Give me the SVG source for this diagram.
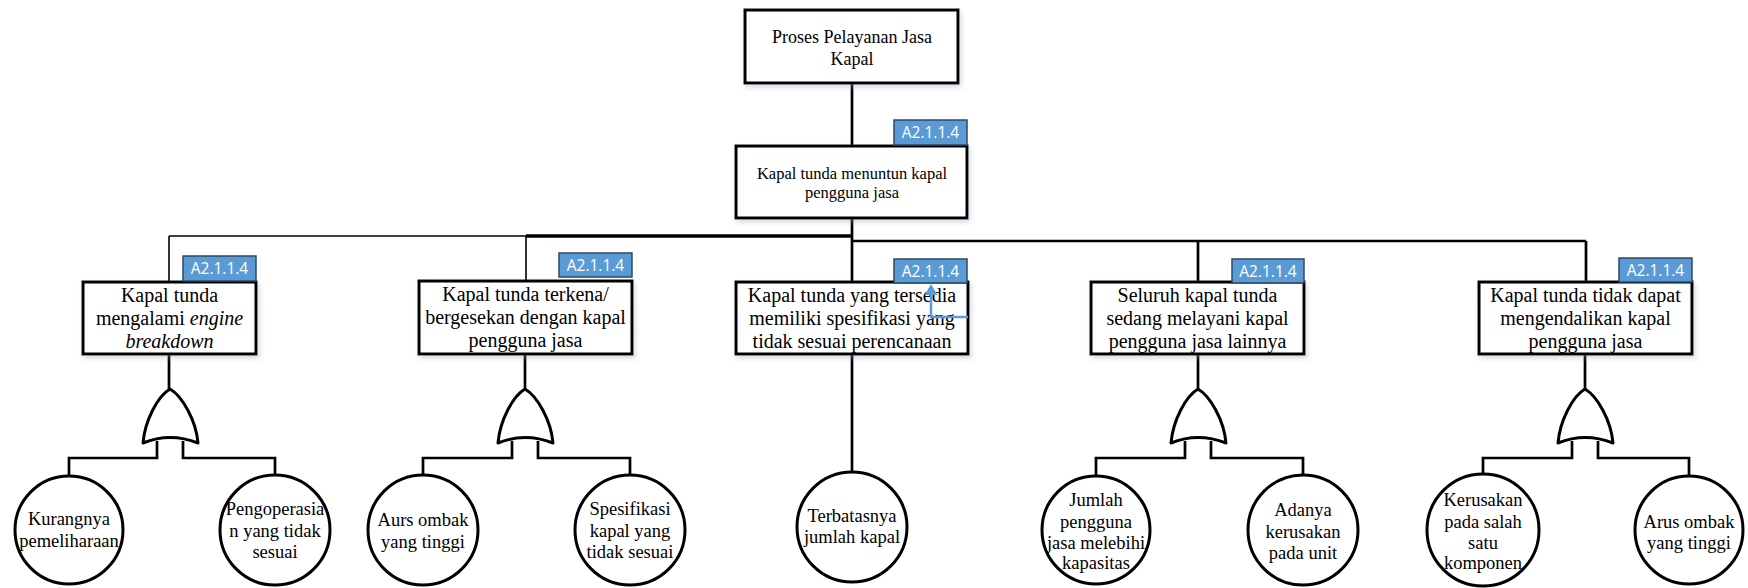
<svg xmlns="http://www.w3.org/2000/svg" width="1748" height="588" viewBox="0 0 1748 588">
  <defs>
    <style>
      .box { fill: #ffffff; stroke: #000000; stroke-width: 3; filter: url(#shadow); }
      .evt { fill: #ffffff; stroke: #000000; stroke-width: 3; }
      .gate { fill: #ffffff; stroke: #000000; stroke-width: 3; stroke-linejoin: round; }
      .tag { fill: #5B9BD5; stroke: #2E4A66; stroke-width: 1.5; }
      .tagtxt { font-family: "Open Sans", "Liberation Sans", sans-serif; font-size: 15.5px; fill: #ffffff; text-anchor: middle; }
      .t { font-family: "Liberation Serif", "DejaVu Serif", serif; fill: #000000; text-anchor: middle; }
      .t20 { font-size: 20px; }
      .t18 { font-size: 18.5px; }
      .wire { fill: none; stroke: #000000; stroke-width: 2.7; }
      .thin { fill: none; stroke: #000000; stroke-width: 1.6; }
      .blue { fill: none; stroke: #5B9BD5; stroke-width: 2.5; }
    </style>
    <filter id="shadow" x="-10%" y="-10%" width="125%" height="130%">
      <feDropShadow dx="2" dy="3" stdDeviation="2.5" flood-color="#8a9bb0" flood-opacity="0.35"/>
    </filter>
    <!-- OR gate, apex at origin -->
    <path id="orgate" class="gate" d="M0,0 C-12,7 -25,31 -27,54 Q0,43 28,54 C26,31 12,7 0,0 Z"/>
  </defs>

  <!-- connectors -->
  <g id="connectors">
    <line class="wire" x1="852" y1="83" x2="852" y2="146"/>
    <line class="wire" x1="852" y1="218" x2="852" y2="282"/>
    <line class="wire" x1="852" y1="241" x2="1586" y2="241"/>
    <line class="wire" x1="1198" y1="241" x2="1198" y2="282"/>
    <line class="wire" x1="1586" y1="241" x2="1586" y2="282"/>
    <line class="wire" x1="526" y1="236" x2="853" y2="236" style="stroke-width:3.5"/>
    <line class="thin" x1="169" y1="236" x2="527" y2="236"/>
    <line class="thin" x1="169" y1="236" x2="169" y2="282"/>
    <line class="thin" x1="526" y1="236" x2="526" y2="282"/>

    <!-- event to gate -->
    <line class="wire" x1="169" y1="354" x2="169" y2="389"/>
    <line class="wire" x1="525" y1="354" x2="525" y2="389"/>
    <line class="wire" x1="1198" y1="354" x2="1198" y2="389"/>
    <line class="wire" x1="1585" y1="354" x2="1585" y2="389"/>
    <line class="wire" x1="852" y1="354" x2="852" y2="472"/>

    <!-- gate inputs -->
    <path class="wire" d="M157,441 V458 H69 V476"/>
    <path class="wire" d="M183,441 V458 H275 V475"/>
    <path class="wire" d="M512,441 V458 H423 V475"/>
    <path class="wire" d="M538,441 V458 H630 V475"/>
    <path class="wire" d="M1185,441 V458 H1096 V476"/>
    <path class="wire" d="M1211,441 V458 H1303 V475"/>
    <path class="wire" d="M1572,441 V458 H1483 V474"/>
    <path class="wire" d="M1598,441 V458 H1689 V476"/>
  </g>

  <!-- top event -->
  <g id="top">
    <rect class="box" x="745" y="10" width="213" height="73"/>
    <text class="t" style="font-size:18px" x="852" y="43">Proses Pelayanan Jasa</text>
    <text class="t" style="font-size:18px" x="852" y="65">Kapal</text>
  </g>

  <g id="a0">
    <rect class="box" x="736" y="146" width="231" height="72"/>
    <rect class="tag" x="894" y="120" width="73" height="25"/>
    <text class="tagtxt" x="930.5" y="138">A2.1.1.4</text>
    <text class="t" style="font-size:16.5px" x="852" y="179">Kapal tunda menuntun kapal</text>
    <text class="t" style="font-size:16.5px" x="852" y="198">pengguna jasa</text>
  </g>

  <!-- intermediate events -->
  <g id="b1">
    <rect class="box" x="83" y="282" width="173" height="72"/>
    <rect class="tag" x="183" y="256" width="73" height="25"/>
    <text class="tagtxt" x="219.5" y="274">A2.1.1.4</text>
    <text class="t t20" x="169.5" y="302">Kapal tunda</text>
    <text class="t t20" x="169.5" y="325">mengalami <tspan font-style="italic">engine</tspan></text>
    <text class="t t20" x="169.5" y="348" font-style="italic">breakdown</text>
  </g>

  <g id="b2">
    <rect class="box" x="419" y="281" width="213" height="73"/>
    <rect class="tag" x="559" y="253" width="73" height="24"/>
    <text class="tagtxt" x="595.5" y="270.5">A2.1.1.4</text>
    <text class="t t20" x="525.5" y="301">Kapal tunda terkena/</text>
    <text class="t t20" x="525.5" y="324">bergesekan dengan kapal</text>
    <text class="t t20" x="525.5" y="347">pengguna jasa</text>
  </g>

  <g id="b3">
    <rect class="box" x="736" y="282" width="232" height="72"/>
    <rect class="tag" x="894" y="259" width="73" height="24"/>
    <text class="tagtxt" x="930.5" y="276.5">A2.1.1.4</text>
    <text class="t t20" x="852" y="302">Kapal tunda yang tersedia</text>
    <text class="t t20" x="852" y="325">memiliki spesifikasi yang</text>
    <text class="t t20" x="852" y="348">tidak sesuai perencanaan</text>
    <!-- blue link back to the tag -->
    <path class="blue" d="M968,317 H931 V293"/>
    <polygon points="924.5,295 937.5,295 931,284" fill="#5B9BD5"/>
  </g>

  <g id="b4">
    <rect class="box" x="1091" y="282" width="213" height="72"/>
    <rect class="tag" x="1232" y="259" width="72" height="24"/>
    <text class="tagtxt" x="1268" y="276.5">A2.1.1.4</text>
    <text class="t t20" x="1197.5" y="302">Seluruh kapal tunda</text>
    <text class="t t20" x="1197.5" y="325">sedang melayani kapal</text>
    <text class="t t20" x="1197.5" y="348">pengguna jasa lainnya</text>
  </g>

  <g id="b5">
    <rect class="box" x="1479" y="282" width="213" height="72"/>
    <rect class="tag" x="1619" y="258" width="73" height="24"/>
    <text class="tagtxt" x="1655.5" y="275.5">A2.1.1.4</text>
    <text class="t t20" x="1585.5" y="302">Kapal tunda tidak dapat</text>
    <text class="t t20" x="1585.5" y="325">mengendalikan kapal</text>
    <text class="t t20" x="1585.5" y="348">pengguna jasa</text>
  </g>

  <!-- OR gates -->
  <g id="g1"><use href="#orgate" x="170" y="389"/></g>
  <g id="g2"><use href="#orgate" x="525" y="389"/></g>
  <g id="g4"><use href="#orgate" x="1198" y="389"/></g>
  <g id="g5"><use href="#orgate" x="1585" y="389"/></g>

  <!-- basic events -->
  <g id="e1">
    <circle class="evt" cx="69" cy="530" r="54"/>
    <text class="t t18" x="69" y="525">Kurangnya</text>
    <text class="t t18" x="69" y="547">pemeliharaan</text>
  </g>
  <g id="e2">
    <circle class="evt" cx="275" cy="530" r="55"/>
    <text class="t t18" x="275" y="515">Pengoperasia</text>
    <text class="t t18" x="275" y="537">n yang tidak</text>
    <text class="t t18" x="275" y="558">sesuai</text>
  </g>
  <g id="e3">
    <circle class="evt" cx="423" cy="530" r="55"/>
    <text class="t t18" x="423" y="526">Aurs ombak</text>
    <text class="t t18" x="423" y="548">yang tinggi</text>
  </g>
  <g id="e4">
    <circle class="evt" cx="630" cy="530" r="55"/>
    <text class="t t18" x="630" y="515">Spesifikasi</text>
    <text class="t t18" x="630" y="537">kapal yang</text>
    <text class="t t18" x="630" y="558">tidak sesuai</text>
  </g>
  <g id="e5">
    <circle class="evt" cx="852" cy="527" r="55"/>
    <text class="t t18" x="852" y="522">Terbatasnya</text>
    <text class="t t18" x="852" y="543">jumlah kapal</text>
  </g>
  <g id="e6">
    <circle class="evt" cx="1096" cy="530" r="54"/>
    <text class="t t18" x="1096" y="506">Jumlah</text>
    <text class="t t18" x="1096" y="528">pengguna</text>
    <text class="t t18" x="1096" y="549">jasa melebihi</text>
    <text class="t t18" x="1096" y="569">kapasitas</text>
  </g>
  <g id="e7">
    <circle class="evt" cx="1303" cy="530" r="55"/>
    <text class="t t18" x="1303" y="516">Adanya</text>
    <text class="t t18" x="1303" y="538">kerusakan</text>
    <text class="t t18" x="1303" y="559">pada unit</text>
  </g>
  <g id="e8">
    <circle class="evt" cx="1483" cy="530" r="56"/>
    <text class="t t18" x="1483" y="506">Kerusakan</text>
    <text class="t t18" x="1483" y="528">pada salah</text>
    <text class="t t18" x="1483" y="549">satu</text>
    <text class="t t18" x="1483" y="569">komponen</text>
  </g>
  <g id="e9">
    <circle class="evt" cx="1689" cy="530" r="54"/>
    <text class="t t18" x="1689" y="528">Arus ombak</text>
    <text class="t t18" x="1689" y="549">yang tinggi</text>
  </g>
</svg>
